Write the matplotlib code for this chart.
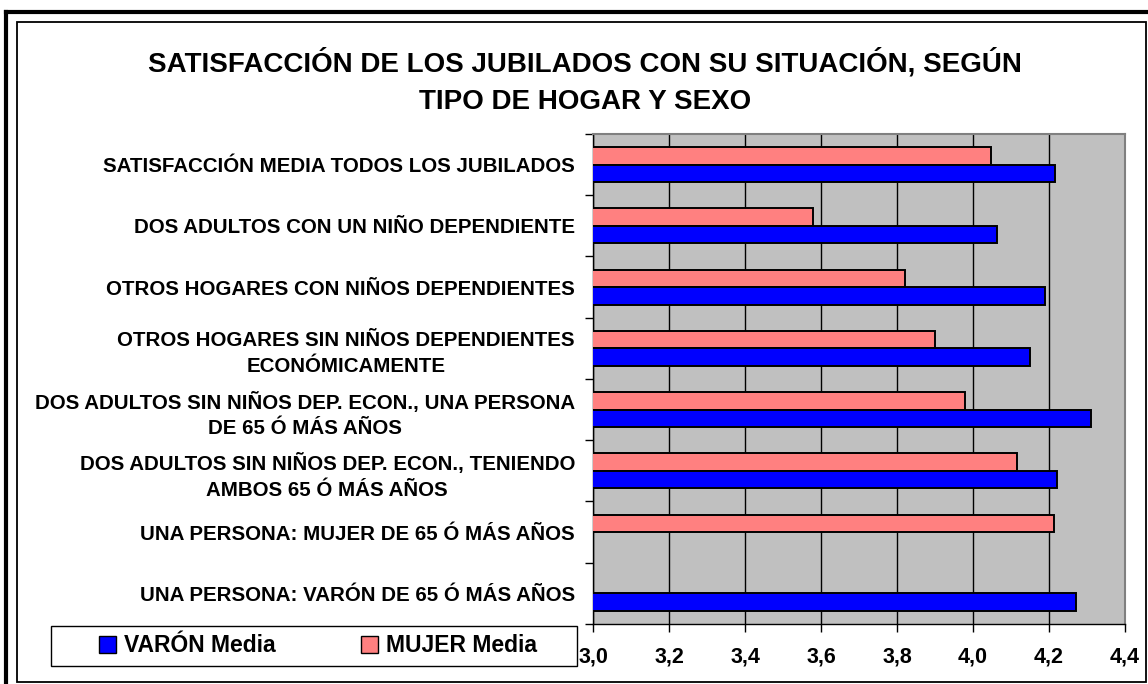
import numpy as np
import matplotlib
matplotlib.use("Agg")
import matplotlib.pyplot as plt
from matplotlib.patches import Rectangle, Patch
from matplotlib.lines import Line2D

plt.rcParams['font.family'] = ['Liberation Sans', 'DejaVu Sans']

title = "SATISFACCIÓN DE LOS JUBILADOS CON SU SITUACIÓN, SEGÚN\nTIPO DE HOGAR Y SEXO"
categories = [
    "SATISFACCIÓN MEDIA TODOS LOS JUBILADOS",
    "DOS ADULTOS CON UN NIÑO DEPENDIENTE",
    "OTROS HOGARES CON NIÑOS DEPENDIENTES",
    "OTROS HOGARES SIN NIÑOS DEPENDIENTES\nECONÓMICAMENTE",
    "DOS ADULTOS SIN NIÑOS DEP. ECON., UNA PERSONA\nDE 65 Ó MÁS AÑOS",
    "DOS ADULTOS SIN NIÑOS DEP. ECON., TENIENDO\nAMBOS 65 Ó MÁS AÑOS",
    "UNA PERSONA: MUJER DE 65 Ó MÁS AÑOS",
    "UNA PERSONA: VARÓN DE 65 Ó MÁS AÑOS",
]
varon = [4.215, 4.063, 4.19, 4.15, 4.31, 4.22, np.nan, 4.27]
mujer = [4.047, 3.58, 3.82, 3.90, 3.98, 4.115, 4.214, np.nan]
series_names = ["VARÓN Media", "MUJER Media"]
xticks = [3.0, 3.2, 3.4, 3.6, 3.8, 4.0, 4.2, 4.4]
xticklabels = ["3,0", "3,2", "3,4", "3,6", "3,8", "4,0", "4,2", "4,4"]

W, H = 1148, 684
fig = plt.figure(figsize=(W / 100, H / 100), dpi=100)
fig.patch.set_facecolor('white')

def fx(px):
    return px / W

def fy(py):
    return 1 - py / H

ax = fig.add_axes([fx(593), fy(624), (1125 - 593) / W, (624 - 134) / H])
ax.set_facecolor('#C0C0C0')

y = np.arange(len(categories))
h = 0.285
blue = '#0000FF'
pink = '#FF8080'
ax.barh(y - h / 2, mujer, height=h, left=0, color=pink, edgecolor='black', linewidth=1.4, zorder=3)
ax.barh(y + h / 2, varon, height=h, left=0, color=blue, edgecolor='black', linewidth=1.4, zorder=3)

ax.set_xlim(3.0, 4.4)
ax.set_ylim(len(categories) - 0.5, -0.5)
ax.set_xticks(xticks)
ax.set_xticklabels(xticklabels, fontsize=15.5, fontweight='bold')
ax.tick_params(axis='x', length=6, width=1, direction='out', pad=10, color='black')
ax.xaxis.grid(True, color='black', linewidth=1, zorder=1)
ax.set_axisbelow(True)

ax.set_yticks(y)
ax.set_yticklabels(categories, fontsize=14.8, fontweight='bold')
for lab in ax.get_yticklabels():
    lab.set_multialignment('center')
    lab.set_linespacing(1.45)
ax.tick_params(axis='y', which='major', length=0, pad=13)
ax.set_yticks(np.arange(-0.5, len(categories), 1.0), minor=True)
ax.tick_params(axis='y', which='minor', length=6, width=1, direction='out', color='black')

for s in ['top', 'right']:
    ax.spines[s].set_color('#808080')
    ax.spines[s].set_linewidth(1.5)
for s in ['left', 'bottom']:
    ax.spines[s].set_color('black')
    ax.spines[s].set_linewidth(1)

fig.text(fx(585), fy(81.5), title, ha='center', va='center', fontsize=20,
         fontweight='bold', linespacing=1.6)

# legend: frame drawn separately, entries placed inside
fig.add_artist(Rectangle((fx(51), fy(666)), (577 - 51) / W, (666 - 626) / H,
                         fill=True, facecolor='white', edgecolor='black', linewidth=1,
                         transform=fig.transFigure, zorder=4))
handles = [Patch(facecolor=blue, edgecolor='black', linewidth=1),
           Patch(facecolor=pink, edgecolor='black', linewidth=1)]
leg = fig.legend(handles, series_names, loc='center',
                 bbox_to_anchor=(fx(318), fy(646)),
                 ncol=2, frameon=False,
                 prop={'weight': 'bold', 'size': 16.5}, handlelength=0.75,
                 handleheight=0.75, handletextpad=0.32, columnspacing=3.75,
                 borderpad=0.0, borderaxespad=0)
leg.set_zorder(5)

# chart borders
fig.add_artist(Line2D([fx(6), fx(6)], [fy(12), fy(684)], color='black', linewidth=3,
                      transform=fig.transFigure))
fig.add_artist(Line2D([fx(6), fx(1148)], [fy(12), fy(12)], color='black', linewidth=3,
                      transform=fig.transFigure))
fig.add_artist(Rectangle((fx(16.5), fy(682)), (1146 - 16.5) / W, (682 - 22) / H,
                         fill=False, edgecolor='black', linewidth=1.3,
                         transform=fig.transFigure))

fig.savefig('out.png', dpi=100, facecolor='white')
